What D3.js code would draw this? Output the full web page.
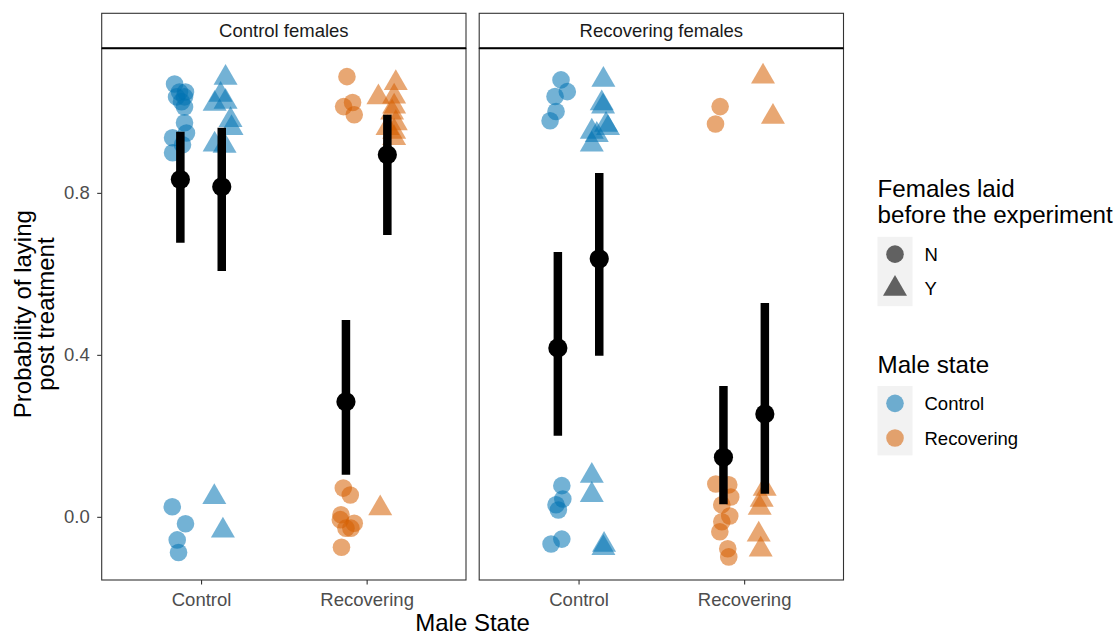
<!DOCTYPE html>
<html lang="en">
<head>
<meta charset="UTF-8">
<title>Probability of laying post treatment</title>
<script src="https://cdnjs.cloudflare.com/ajax/libs/d3/7.8.5/d3.min.js"></script>
<style>
    body { margin: 0; background: #fff; }
    text { font-family: "Liberation Sans", Arial, sans-serif; }
</style>
</head>
<body>
<svg id="chart" width="1118" height="636"></svg>

<script>
    var facets = ['Control females', 'Recovering females'];
    var maleStates = ['Control', 'Recovering'];
    var laidLevels = ['N', 'Y'];
    var yTicks = [0, 0.4, 0.8];

    // model estimates: facet, male state, laid before, mean, lower, upper
    var estimates = [
        ['Control females', 'Control', 'N', 0.833, 0.677, 0.951],
        ['Control females', 'Control', 'Y', 0.815, 0.607, 0.961],
        ['Control females', 'Recovering', 'N', 0.284, 0.104, 0.486],
        ['Control females', 'Recovering', 'Y', 0.894, 0.696, 0.993],
        ['Recovering females', 'Control', 'N', 0.417, 0.200, 0.654],
        ['Recovering females', 'Control', 'Y', 0.637, 0.398, 0.849],
        ['Recovering females', 'Recovering', 'N', 0.147, 0.031, 0.323],
        ['Recovering females', 'Recovering', 'Y', 0.254, 0.057, 0.528]
    ];

    // raw outcomes (0/1) as plotted after jitter: [x jitter, y value]
    var cfControlN = [[-0.035, 1.069], [-0.005, 1.049], [0.031, 1.049], [-0.023, 1.037], [0.025, 1.037],
        [0.007, 1.025], [0.025, 1.012], [0.025, 0.973], [0.037, 0.948], [-0.047, 0.936], [0.013, 0.919],
        [-0.047, 0.899], [-0.049, 0.025], [0.031, -0.017], [-0.019, -0.057], [-0.011, -0.088]];
    var cfControlY = [[0.023, 1.084], [-0.007, 1.042], [0.023, 1.025], [-0.043, 1.020], [0.053, 0.980],
        [0.059, 0.960], [-0.043, 0.919], [0.017, 0.916], [-0.045, 0.049], [0.007, -0.034]];
    var cfRecovN = [[0.006, 1.087], [-0.014, 1.013], [0.040, 1.023], [0.050, 0.993], [-0.016, 0.071],
        [0.026, 0.054], [-0.030, 0.005], [-0.034, -0.007], [0.050, -0.016], [0.000, -0.028],
        [0.030, -0.028], [-0.027, -0.075]];
    var cfRecovY = [[0.051, 1.071], [-0.054, 1.036], [0.041, 1.038], [0.041, 1.013], [0.029, 0.998],
        [0.051, 0.972], [0.001, 0.960], [0.041, 0.951], [0.041, 0.935], [-0.043, 0.021]];
    var rfControlN = [[0.019, 1.079], [0.057, 1.050], [-0.017, 1.038], [-0.011, 1.001], [-0.047, 0.978],
        [0.024, 0.077], [0.030, 0.044], [-0.011, 0.030], [0.003, 0.017], [0.024, -0.055], [-0.041, -0.067]];
    var rfControlY = [[0.025, 1.079], [0.015, 1.021], [0.023, 1.013], [0.041, 0.968], [0.053, 0.960],
        [-0.045, 0.951], [-0.015, 0.943], [-0.045, 0.919], [-0.045, 0.101], [-0.045, 0.054],
        [0.029, -0.069], [0.025, -0.077]];
    var rfRecovN = [[-0.020, 1.013], [-0.048, 0.970], [-0.046, 0.081], [0.032, 0.079], [0.044, 0.049],
        [-0.010, 0.030], [0.038, 0.002], [-0.010, -0.012], [-0.022, -0.037], [0.026, -0.079], [0.032, -0.099]];
    var rfRecovY = [[-0.011, 1.087], [0.049, 0.988], [-0.001, 0.069], [-0.019, 0.042], [-0.031, 0.022],
        [-0.037, -0.044], [-0.025, -0.081]];

    var pointGroups = [
        ['Control females', 'Control', 'N', cfControlN],
        ['Control females', 'Control', 'Y', cfControlY],
        ['Control females', 'Recovering', 'N', cfRecovN],
        ['Control females', 'Recovering', 'Y', cfRecovY],
        ['Recovering females', 'Control', 'N', rfControlN],
        ['Recovering females', 'Control', 'Y', rfControlY],
        ['Recovering females', 'Recovering', 'N', rfRecovN],
        ['Recovering females', 'Recovering', 'Y', rfRecovY]
    ];

    var colors = {Control: '#0072B2', Recovering: '#D55E00'};
    var pointAlpha = 0.55;
    var dodge = {N: -0.125, Y: 0.125};

    var panel = {};
    panel.top = 48.3;
    panel.bottom = 580;
    panel.stripTop = 13.3;
    panel.width = 364.3;
    panel.lefts = [101.7, 479.2];
    panel.border = '#333333';

    var svg = d3.select('#chart');

    var y = d3.scaleLinear().domain([-0.156, 1.157]).range([panel.bottom, panel.top]);

    var circleSym = d3.symbol().type(d3.symbolCircle).size(Math.PI * 8.8 * 8.8);
    var triSym = d3.symbol().type(d3.symbolTriangle).size(249);
    function shapePath(laid) {
        return laid === 'N' ? circleSym() : triSym();
    }

    init();

    function init() {
        facets.forEach(function (f, i) {
            renderPanel(f, i);
        });
        renderAxisTitles();
        renderLegends();
    }

    function xScale(i) {
        var left = panel.lefts[i];
        return d3.scaleLinear().domain([0.4, 2.6]).range([left, left + panel.width]);
    }

    function catIndex(m) {
        return maleStates.indexOf(m) + 1;
    }

    function renderPanel(facet, i) {
        var x = xScale(i);
        var left = panel.lefts[i];
        var g = svg.append('g').attr('class', 'panel');

        // jittered raw points
        var pts = [];
        pointGroups.filter(function (d) { return d[0] === facet; }).forEach(function (grp) {
            grp[3].forEach(function (p) {
                pts.push({male: grp[1], laid: grp[2], jx: p[0], value: p[1]});
            });
        });

        g.selectAll('.pt')
            .data(pts)
            .enter()
            .append('path')
            .attr('class', 'pt')
            .attr('d', function (d) { return shapePath(d.laid); })
            .attr('transform', function (d) {
                return 'translate(' + x(catIndex(d.male) + dodge[d.laid] + d.jx) + ',' + y(d.value) + ')';
            })
            .attr('fill', function (d) { return colors[d.male]; })
            .attr('fill-opacity', pointAlpha);

        // estimates with intervals
        var est = estimates.filter(function (d) { return d[0] === facet; });

        g.selectAll('.ci')
            .data(est)
            .enter()
            .append('line')
            .attr('class', 'ci')
            .attr('x1', function (d) { return x(catIndex(d[1]) + dodge[d[2]]); })
            .attr('x2', function (d) { return x(catIndex(d[1]) + dodge[d[2]]); })
            .attr('y1', function (d) { return y(d[4]); })
            .attr('y2', function (d) { return y(d[5]); })
            .attr('stroke', '#000')
            .attr('stroke-width', 8.5);

        g.selectAll('.mean')
            .data(est)
            .enter()
            .append('circle')
            .attr('class', 'mean')
            .attr('cx', function (d) { return x(catIndex(d[1]) + dodge[d[2]]); })
            .attr('cy', function (d) { return y(d[3]); })
            .attr('r', 9.6)
            .attr('fill', '#000');

        // panel border and strip
        g.append('rect')
            .attr('x', left)
            .attr('y', panel.top)
            .attr('width', panel.width)
            .attr('height', panel.bottom - panel.top)
            .attr('fill', 'none')
            .attr('stroke', panel.border)
            .attr('stroke-width', 1.1);

        g.append('rect')
            .attr('x', left)
            .attr('y', panel.stripTop)
            .attr('width', panel.width)
            .attr('height', panel.top - panel.stripTop)
            .attr('fill', '#fff')
            .attr('stroke', panel.border)
            .attr('stroke-width', 1.1);

        g.append('line')
            .attr('x1', left).attr('x2', left + panel.width)
            .attr('y1', panel.top).attr('y2', panel.top)
            .attr('stroke', '#000')
            .attr('stroke-width', 2);

        g.append('text')
            .attr('x', left + panel.width / 2)
            .attr('y', (panel.stripTop + panel.top) / 2)
            .attr('dy', '0.35em')
            .attr('text-anchor', 'middle')
            .attr('font-size', '18.5px')
            .attr('fill', '#1a1a1a')
            .text(facet);

        // x axis
        var xAxis = d3.axisBottom(x)
            .tickValues([1, 2])
            .tickFormat(function (d) { return maleStates[d - 1]; })
            .tickSize(4.5)
            .tickPadding(8);

        var xg = g.append('g')
            .attr('transform', 'translate(0,' + panel.bottom + ')')
            .call(xAxis);
        styleAxis(xg);

        if (i === 0) {
            var yAxis = d3.axisLeft(y)
                .tickValues(yTicks)
                .tickFormat(d3.format('.1f'))
                .tickSize(4.5)
                .tickPadding(7.5);
            var yg = g.append('g')
                .attr('transform', 'translate(' + left + ',0)')
                .call(yAxis);
            styleAxis(yg);
        }
    }

    function styleAxis(sel) {
        sel.select('.domain').remove();
        sel.selectAll('.tick line').attr('stroke', panel.border).attr('stroke-width', 1.1);
        sel.selectAll('.tick text')
            .attr('fill', '#4d4d4d')
            .attr('font-size', '18.5px')
            .attr('font-family', '"Liberation Sans", Arial, sans-serif');
    }

    function renderAxisTitles() {
        var midX = (panel.lefts[0] + panel.lefts[1] + panel.width) / 2;
        svg.append('text')
            .attr('x', midX)
            .attr('y', 631)
            .attr('text-anchor', 'middle')
            .attr('font-size', '24px')
            .attr('fill', '#000')
            .text('Male State');

        var midY = (panel.top + panel.bottom) / 2;
        var yt = svg.append('text')
            .attr('transform', 'translate(31,' + midY + ') rotate(-90)')
            .attr('text-anchor', 'middle')
            .attr('font-size', '24px')
            .attr('fill', '#000');
        yt.append('tspan').attr('x', 0).attr('y', 0).text('Probability of laying');
        yt.append('tspan').attr('x', 0).attr('y', 23).text('post treatment');
    }

    function renderLegends() {
        var lg = svg.append('g').attr('class', 'legend');
        var lx = 877.5;
        var keyW = 35, keyH = 34.7;

        // shape legend
        var t1 = lg.append('text')
            .attr('x', lx)
            .attr('font-size', '24.2px')
            .attr('fill', '#000');
        t1.append('tspan').attr('x', lx).attr('y', 197).text('Females laid');
        t1.append('tspan').attr('x', lx).attr('y', 223).text('before the experiment');

        var shapeTop = 236.8;
        lg.append('rect')
            .attr('x', lx).attr('y', shapeTop)
            .attr('width', keyW).attr('height', keyH * laidLevels.length)
            .attr('fill', '#f2f2f2');

        laidLevels.forEach(function (l, k) {
            var cy = shapeTop + keyH * (k + 0.5);
            lg.append('path')
                .attr('d', shapePath(l))
                .attr('transform', 'translate(' + (lx + keyW / 2) + ',' + cy + ')')
                .attr('fill', '#000')
                .attr('fill-opacity', 0.6);
            lg.append('text')
                .attr('x', lx + 47)
                .attr('y', cy)
                .attr('dy', '0.35em')
                .attr('font-size', '18.5px')
                .attr('fill', '#000')
                .text(l);
        });

        // colour legend
        lg.append('text')
            .attr('x', lx)
            .attr('y', 373)
            .attr('font-size', '24.2px')
            .attr('fill', '#000')
            .text('Male state');

        var colTop = 386;
        lg.append('rect')
            .attr('x', lx).attr('y', colTop)
            .attr('width', keyW).attr('height', keyH * maleStates.length)
            .attr('fill', '#f2f2f2');

        maleStates.forEach(function (m, k) {
            var cy = colTop + keyH * (k + 0.5);
            lg.append('path')
                .attr('d', circleSym())
                .attr('transform', 'translate(' + (lx + keyW / 2) + ',' + cy + ')')
                .attr('fill', colors[m])
                .attr('fill-opacity', pointAlpha);
            lg.append('text')
                .attr('x', lx + 47)
                .attr('y', cy)
                .attr('dy', '0.35em')
                .attr('font-size', '18.5px')
                .attr('fill', '#000')
                .text(m);
        });
    }
</script>
</body>
</html>
